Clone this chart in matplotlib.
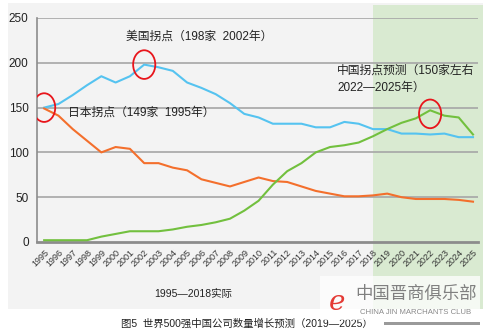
import matplotlib
matplotlib.use("Agg")
import matplotlib.pyplot as plt
from matplotlib.patches import Ellipse, Rectangle
from matplotlib.transforms import blended_transform_factory

plt.rcParams["font.family"] = ["Liberation Sans", "Noto Sans CJK SC", "DejaVu Sans"]

years = list(range(1995, 2026))
usa = [150, 154, 164, 175, 185, 178, 185, 198, 195, 191, 178, 172, 165, 155,
       143, 139, 132, 132, 132, 128, 128, 134, 132, 126, 126, 121, 121, 120,
       121, 117, 117]
japan = [149, 141, 126, 113, 100, 106, 104, 88, 88, 83, 80, 70, 66, 62,
         67, 72, 68, 67, 62, 57, 54, 51, 51, 52, 54, 50, 48, 48, 48, 47, 45]
china = [2, 2, 2, 2, 6, 9, 12, 12, 12, 14, 17, 19, 22, 26, 35, 46, 64, 79,
         88, 100, 106, 108, 111, 118, 126, 133, 138, 147, 141, 139, 120]

forecast_start = 2018
# turning points: (year, value) to circle
turning_points = [(1995, 150), (2002, 198), (2022, 143)]

W, H = 490, 336
fig = plt.figure(figsize=(W / 100, H / 100), dpi=100)
fig.patch.set_facecolor("white")

# light grey panel behind the whole chart
fig.add_artist(Rectangle((8 / W, 1 - 309 / H), 475 / W, 306 / H,
                         transform=fig.transFigure, facecolor="#f3f3f3",
                         edgecolor="none", zorder=-3))

ax = fig.add_axes([37 / W, 1 - 242 / H, 441 / W, 224 / H])
ax.set_facecolor("none")

# forecast band, reaching down over the tick labels
trans = blended_transform_factory(ax.transData, fig.transFigure)
fig.add_artist(Rectangle((forecast_start, 1 - 309 / H), 7.7, 304 / H,
                         transform=trans, facecolor="#d9ead1",
                         edgecolor="none", zorder=-2))

for y in [50, 100, 150, 200, 250]:
    ax.axhline(y, color="#a6a6a6", lw=1.2, zorder=1)

ax.plot(years, usa, color="#55c3f0", lw=1.5, zorder=3)
ax.plot(years, japan, color="#f36f2c", lw=1.5, zorder=3)
ax.plot(years, china, color="#72c03e", lw=1.5, zorder=3)

for yr, val in turning_points:
    ax.add_patch(Ellipse((yr, val), 1.55, 32, fill=False,
                         edgecolor="#e8151b", lw=1.3, zorder=4))

ax.set_xlim(1994.5, 2025.35)
ax.set_ylim(0, 250)
ax.set_yticks([0, 50, 100, 150, 200, 250])
ax.set_xticks(years)
ax.set_xticklabels([str(y) for y in years], rotation=45, ha="right",
                   va="top", rotation_mode="anchor", fontsize=6.5,
                   color="#333333")
ax.tick_params(axis="y", length=0, labelsize=8.5, colors="#222222", pad=6)
ax.tick_params(axis="x", length=0, pad=4)

for side in ["top", "right"]:
    ax.spines[side].set_visible(False)
ax.spines["left"].set_color("#8c8c8c")
ax.spines["left"].set_linewidth(1.2)
ax.spines["bottom"].set_color("#8c8c8c")
ax.spines["bottom"].set_linewidth(2)

ax.text(2000.7, 229, "美国拐点（198家  2002年）", fontsize=8.5, color="#222222",
        va="center")
ax.text(1996.7, 144, "日本拐点（149家  1995年）", fontsize=8.5, color="#222222",
        va="center")
ax.text(2015.5, 191, "中国拐点预测（150家左右", fontsize=8.5, color="#222222",
        va="center")
ax.text(2015.5, 172, "2022—2025年）", fontsize=8.5, color="#222222",
        va="center")

fig.text(193 / W, 1 - 294 / H, "1995—2018实际", fontsize=7.5,
         color="#222222", ha="center", va="center")
fig.text(247 / W, 1 - 324 / H, "图5  世界500强中国公司数量增长预测（2019—2025）",
         fontsize=7.5, color="#222222", ha="center", va="center")

# club watermark in the lower right corner
fig.add_artist(Rectangle((320 / W, 1 - 320 / H), 160 / W, 44 / H,
                         transform=fig.transFigure, facecolor="white",
                         edgecolor="none", alpha=0.75, zorder=5))
fig.add_artist(Rectangle((384 / W, 1 - 325 / H), 96 / W, 3 / H,
                         transform=fig.transFigure, facecolor="#9a9a9a",
                         edgecolor="none", zorder=5))
fig.text(337 / W, 1 - 302 / H, "e", fontsize=20, color="#e43a35",
         style="italic", ha="center", va="center", zorder=6,
         family=["DejaVu Serif"])
fig.text(416 / W, 1 - 294 / H, "中国晋商俱乐部", fontsize=12.5, color="#808080",
         ha="center", va="center", zorder=6)
fig.text(416 / W, 1 - 313 / H, "CHINA JIN MARCHANTS CLUB", fontsize=5.6,
         color="#8a8a8a", ha="center", va="center", zorder=6)

fig.savefig("out.png", dpi=100)
